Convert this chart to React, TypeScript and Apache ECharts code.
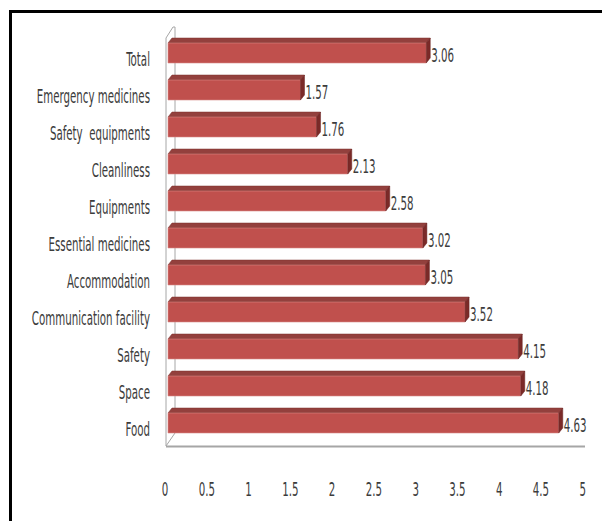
import React, { useEffect, useRef } from "react";
import * as echarts from "echarts";

const categories = [
  "Food",
  "Space",
  "Safety",
  "Communication facility",
  "Accommodation",
  "Essential medicines",
  "Equipments",
  "Cleanliness",
  "Safety  equipments",
  "Emergency medicines",
  "Total",
];
const values = [4.63, 4.18, 4.15, 3.52, 3.05, 3.02, 2.58, 2.13, 1.76, 1.57, 3.06];
const tickValues = [0, 0.5, 1, 1.5, 2, 2.5, 3, 3.5, 4, 4.5, 5];
const tickLabels = ["0", "0.5", "1", "1.5", "2", "2.5", "3", "3.5", "4", "4.5", "5"];

const FONT = '"DejaVu Sans Condensed", "Liberation Sans Narrow", sans-serif';
const FONT_SIZE = 19;
const SX = 0.6;
const TEXT_COLOR = "#3c3c3c";

function squeezedText(text: string, x: number, y: number, align: string) {
  return {
    type: "text",
    x,
    y,
    scaleX: SX,
    scaleY: 1,
    style: {
      text,
      x: 0,
      y: 0,
      align,
      verticalAlign: "middle",
      fontFamily: FONT,
      fontSize: FONT_SIZE,
      fill: TEXT_COLOR,
    },
  };
}

export default function App() {
  const ref = useRef<HTMLDivElement>(null);
  useEffect(() => {
    if (!ref.current) return;
    const chart = echarts.init(ref.current, undefined, { renderer: "svg" });
    const option: any = {
      animation: false,
      backgroundColor: "#ffffff",
      grid: { left: 168, right: 12, top: 32, height: 407 },
      xAxis: { type: "value", min: 0, max: 5, interval: 0.5, show: false },
      yAxis: { type: "category", data: categories, show: false },
      graphic: {
        elements: [
          {
            type: "polygon",
            z: 0,
            shape: {
              points: [
                [166, 38],
                [173, 27],
                [175, 27],
                [175, 433],
                [166, 446],
              ],
            },
            style: { fill: "#ffffff", stroke: "#a6a6a6", lineWidth: 1 },
          },
          {
            type: "line",
            z: 0,
            shape: { x1: 166, y1: 446.5, x2: 585, y2: 446.5 },
            style: { stroke: "#a6a6a6", lineWidth: 2 },
          },
          {
            type: "rect",
            z: 100,
            shape: { x: 10.5, y: 11.5, width: 700, height: 600 },
            style: { fill: "none", stroke: "#000000", lineWidth: 3 },
          },
        ],
      },
      series: [
        {
          type: "custom",
          z: 5,
          data: values.map((v, i) => [v, i]),
          renderItem: (params: any, api: any) => {
            const v = api.value(0);
            const cat = api.value(1);
            const end = api.coord([v, cat]);
            const start = api.coord([0, cat]);
            const band = api.size([0, 1])[1];
            const h = band * 0.675;
            const cy = end[1];
            const top = cy - h / 2;
            const bottom = cy + h / 2;
            const x0 = start[0];
            const x1 = end[0];
            const dx = 4;
            const dy = 5;
            return {
              type: "group",
              children: [
                {
                  type: "polygon",
                  shape: {
                    points: [
                      [x0, top + dy],
                      [x0 + dx, top],
                      [x1 + dx, top],
                      [x1, top + dy],
                    ],
                  },
                  style: { fill: "#93403d", stroke: "#7d302e", lineWidth: 0.5 },
                },
                {
                  type: "rect",
                  shape: { x: x0, y: top + dy, width: x1 - x0, height: bottom - top - dy },
                  style: { fill: "#c0504d", stroke: "#d98a88", lineWidth: 0.6 },
                },
                {
                  type: "polygon",
                  shape: {
                    points: [
                      [x1, top + dy],
                      [x1 + dx, top],
                      [x1 + dx, bottom - dy],
                      [x1, bottom],
                    ],
                  },
                  style: { fill: "#7a2a28", stroke: "#6a2422", lineWidth: 0.5 },
                },
                squeezedText(v.toFixed(2), x1 + dx + 1, cy + 4.5, "left"),
              ],
            };
          },
        },
        {
          type: "custom",
          z: 5,
          data: categories.map((c, i) => [0, i]),
          renderItem: (params: any, api: any) => {
            const i = api.value(1);
            const p = api.coord([0, i]);
            return squeezedText(categories[i], p[0] - 18, p[1] + 8.5, "right");
          },
        },
        {
          type: "custom",
          z: 5,
          data: tickValues.map((t, i) => [t, 0, i]),
          renderItem: (params: any, api: any) => {
            const t = api.value(0);
            const idx = api.value(2);
            const p = api.coord([t, 0]);
            const origin = api.coord([0, 0]);
            const band = api.size([0, 1])[1];
            const x = origin[0] - 3 + (p[0] - origin[0]) * 0.99;
            return squeezedText(tickLabels[idx], x, p[1] + band / 2 + 50.5, "center");
          },
        },
      ],
    };
    chart.setOption(option);
    return () => chart.dispose();
  }, []);
  return (
    <div
      ref={ref}
      style={{ position: "absolute", left: 0, top: 0, width: 602, height: 521 }}
    />
  );
}
